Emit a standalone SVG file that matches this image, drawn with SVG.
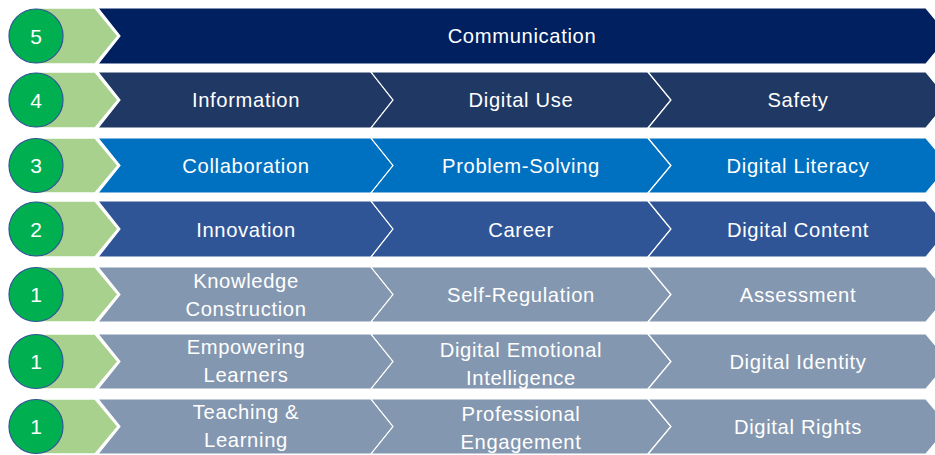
<svg xmlns="http://www.w3.org/2000/svg" width="935" height="455" viewBox="0 0 935 455">
  <style>
    .lvl { fill: #A9D18E; stroke: #FFFFFF; stroke-width: 1.5; }
    .dot { fill: #00B050; stroke: #2F5597; stroke-width: 1.2; }
    .num { fill: #FFFFFF; font-family: "Liberation Sans", Arial, sans-serif; font-size: 21px; text-anchor: middle; }
    .seg { stroke: #FFFFFF; stroke-width: 1.2; }
    .lbl { fill: #FFFFFF; font-family: "Liberation Sans", Arial, sans-serif; font-size: 20.2px; letter-spacing: 0.65px; text-anchor: middle; }
    .r5 { fill: #002060; }
    .r4 { fill: #203864; }
    .r3 { fill: #0070C0; }
    .r2 { fill: #2F5597; }
    .r1 { fill: #8497B0; }
  </style>
  <rect width="935" height="455" fill="#FFFFFF"/>

  <!-- Level 5 -->
  <g id="row-5">
    <polygon class="lvl" points="33,8 95,8 118,36 95,64 33,64"/>
    <circle class="dot" cx="36" cy="36" r="27"/>
    <text class="num" x="36" y="43.5">5</text>
    <polygon class="seg r5" points="98,8 926,8 949,36 926,64 98,64 120,36"/>
    <text class="lbl" x="522" y="43">Communication</text>
  </g>

  <!-- Level 4 -->
  <g id="row-4">
    <polygon class="lvl" points="33,72 95,72 118,100 95,128 33,128"/>
    <circle class="dot" cx="36" cy="100" r="27"/>
    <text class="num" x="36" y="107.5">4</text>
    <polygon class="seg r4" points="98,72 371,72 393,100 371,128 98,128 120,100"/>
    <polygon class="seg r4" points="371,72 648,72 671,100 648,128 371,128 393,100"/>
    <polygon class="seg r4" points="648,72 926,72 949,100 926,128 648,128 671,100"/>
    <text class="lbl" x="246" y="106.5">Information</text>
    <text class="lbl" x="521" y="106.5">Digital Use</text>
    <text class="lbl" x="798" y="106.5">Safety</text>
  </g>

  <!-- Level 3 -->
  <g id="row-3">
    <polygon class="lvl" points="33,138 95,138 118,165.5 95,193 33,193"/>
    <circle class="dot" cx="36" cy="165.5" r="27"/>
    <text class="num" x="36" y="173">3</text>
    <polygon class="seg r3" points="98,138 371,138 393,165.5 371,193 98,193 120,165.5"/>
    <polygon class="seg r3" points="371,138 648,138 671,165.5 648,193 371,193 393,165.5"/>
    <polygon class="seg r3" points="648,138 926,138 949,165.5 926,193 648,193 671,165.5"/>
    <text class="lbl" x="246" y="172.5">Collaboration</text>
    <text class="lbl" x="521" y="172.5">Problem-Solving</text>
    <text class="lbl" x="798" y="172.5">Digital Literacy</text>
  </g>

  <!-- Level 2 -->
  <g id="row-2">
    <polygon class="lvl" points="33,201 95,201 118,229 95,257 33,257"/>
    <circle class="dot" cx="36" cy="229" r="27"/>
    <text class="num" x="36" y="236.5">2</text>
    <polygon class="seg r2" points="98,201 371,201 393,229 371,257 98,257 120,229"/>
    <polygon class="seg r2" points="371,201 648,201 671,229 648,257 371,257 393,229"/>
    <polygon class="seg r2" points="648,201 926,201 949,229 926,257 648,257 671,229"/>
    <text class="lbl" x="246" y="236.5">Innovation</text>
    <text class="lbl" x="521" y="236.5">Career</text>
    <text class="lbl" x="798" y="236.5">Digital Content</text>
  </g>

  <!-- Level 1: knowledge construction -->
  <g id="row-1a">
    <polygon class="lvl" points="33,267 95,267 118,294.5 95,322 33,322"/>
    <circle class="dot" cx="36" cy="294.5" r="27"/>
    <text class="num" x="36" y="302">1</text>
    <polygon class="seg r1" points="98,267 371,267 393,294.5 371,322 98,322 120,294.5"/>
    <polygon class="seg r1" points="371,267 648,267 671,294.5 648,322 371,322 393,294.5"/>
    <polygon class="seg r1" points="648,267 926,267 949,294.5 926,322 648,322 671,294.5"/>
    <text class="lbl" x="246" y="288">Knowledge</text>
    <text class="lbl" x="246" y="316">Construction</text>
    <text class="lbl" x="521" y="301.5">Self-Regulation</text>
    <text class="lbl" x="798" y="301.5">Assessment</text>
  </g>

  <!-- Level 1: empowering learners -->
  <g id="row-1b">
    <polygon class="lvl" points="33,334 95,334 118,361.5 95,389 33,389"/>
    <circle class="dot" cx="36" cy="361.5" r="27"/>
    <text class="num" x="36" y="369">1</text>
    <polygon class="seg r1" points="98,334 371,334 393,361.5 371,389 98,389 120,361.5"/>
    <polygon class="seg r1" points="371,334 648,334 671,361.5 648,389 371,389 393,361.5"/>
    <polygon class="seg r1" points="648,334 926,334 949,361.5 926,389 648,389 671,361.5"/>
    <text class="lbl" x="246" y="354">Empowering</text>
    <text class="lbl" x="246" y="382">Learners</text>
    <text class="lbl" x="521" y="357">Digital Emotional</text>
    <text class="lbl" x="521" y="385">Intelligence</text>
    <text class="lbl" x="798" y="368.5">Digital Identity</text>
  </g>

  <!-- Level 1: teaching and learning -->
  <g id="row-1c">
    <polygon class="lvl" points="33,399 95,399 118,426.5 95,454 33,454"/>
    <circle class="dot" cx="36" cy="426.5" r="27"/>
    <text class="num" x="36" y="434">1</text>
    <polygon class="seg r1" points="98,399 371,399 393,426.5 371,454 98,454 120,426.5"/>
    <polygon class="seg r1" points="371,399 648,399 671,426.5 648,454 371,454 393,426.5"/>
    <polygon class="seg r1" points="648,399 926,399 949,426.5 926,454 648,454 671,426.5"/>
    <text class="lbl" x="246" y="419">Teaching &amp;</text>
    <text class="lbl" x="246" y="447">Learning</text>
    <text class="lbl" x="521" y="421">Professional</text>
    <text class="lbl" x="521" y="449">Engagement</text>
    <text class="lbl" x="798" y="433.5">Digital Rights</text>
  </g>
</svg>
